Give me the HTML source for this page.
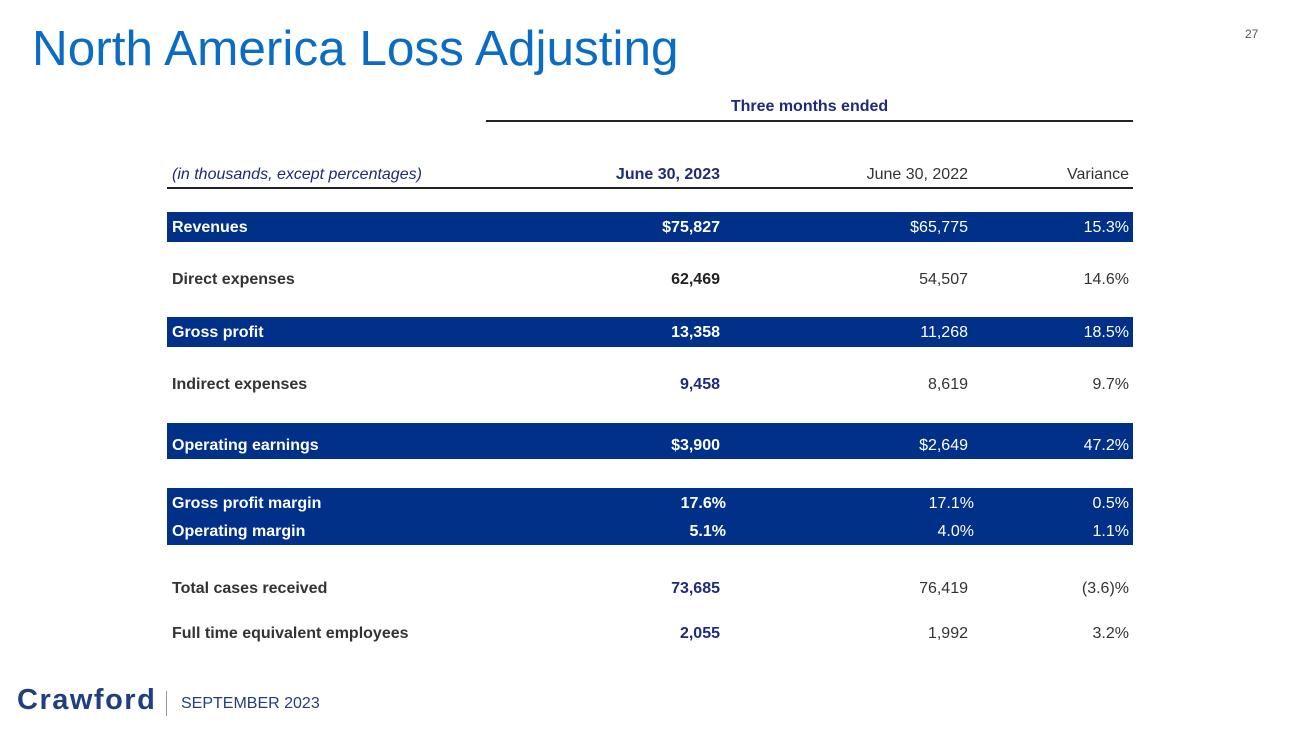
<!DOCTYPE html>
<html><head><meta charset="utf-8"><style>
body{margin:0;width:1300px;height:731px;background:#fff;position:relative;overflow:hidden;font-family:"Liberation Sans",sans-serif;}
.t{position:absolute;font-size:16px;line-height:20px;white-space:nowrap;}
.l{left:172px;font-weight:bold;color:#333;}
.c1{right:580px;text-align:right;font-weight:bold;color:#1f2a7a;}
.c2{right:332px;text-align:right;color:#333;}
.c3{right:171px;text-align:right;color:#333;}
.bar{position:absolute;left:167px;width:966px;background:#003087;}
.w{color:#fff !important;}
</style></head><body>
<div style="position:absolute;left:32px;top:20px;font-size:49.5px;color:#0b6cc4;">North America Loss Adjusting</div>
<div style="position:absolute;left:1245px;top:27px;font-size:12px;color:#555;">27</div>
<div class="t" style="left:486px;width:647px;text-align:center;top:97px;font-weight:bold;color:#1f2a7a;">Three months ended</div>
<div style="position:absolute;left:486px;width:647px;top:120px;height:2px;background:#222;"></div>
<div class="t" style="left:172px;top:165px;font-style:italic;color:#1f2a7a;">(in thousands, except percentages)</div>
<div class="t c1" style="top:165px;">June 30, 2023</div>
<div class="t c2" style="top:165px;">June 30, 2022</div>
<div class="t c3" style="top:165px;">Variance</div>
<div style="position:absolute;left:167px;width:966px;top:187px;height:2px;background:#222;"></div>

<div class="bar" style="top:212px;height:30px;"></div>
<div>
<div class="t l w" style="top:218px;">Revenues</div><div class="t c1 w" style="top:218px;">$75,827</div><div class="t c2 w" style="top:218px;">$65,775</div><div class="t c3 w" style="top:218px;">15.3%</div></div>

<div>
<div class="t l" style="top:270px;">Direct expenses</div><div class="t c1" style="top:270px;color:#222;">62,469</div><div class="t c2" style="top:270px;">54,507</div><div class="t c3" style="top:270px;">14.6%</div></div>

<div class="bar" style="top:317px;height:30px;"></div>
<div>
<div class="t l w" style="top:323px;">Gross profit</div><div class="t c1 w" style="top:323px;">13,358</div><div class="t c2 w" style="top:323px;">11,268</div><div class="t c3 w" style="top:323px;">18.5%</div></div>

<div>
<div class="t l" style="top:375px;">Indirect expenses</div><div class="t c1" style="top:375px;">9,458</div><div class="t c2" style="top:375px;">8,619</div><div class="t c3" style="top:375px;">9.7%</div></div>

<div class="bar" style="top:423px;height:36px;"></div>
<div>
<div class="t l w" style="top:436px;">Operating earnings</div><div class="t c1 w" style="top:436px;">$3,900</div><div class="t c2 w" style="top:436px;">$2,649</div><div class="t c3 w" style="top:436px;">47.2%</div></div>

<div class="bar" style="top:488px;height:57px;"></div>
<div>
<div class="t l w" style="top:494px;">Gross profit margin</div><div class="t c1 w" style="top:494px;right:574px;">17.6%</div><div class="t c2 w" style="top:494px;right:326px;">17.1%</div><div class="t c3 w" style="top:494px;">0.5%</div></div>
<div>
<div class="t l w" style="top:522px;">Operating margin</div><div class="t c1 w" style="top:522px;right:574px;">5.1%</div><div class="t c2 w" style="top:522px;right:326px;">4.0%</div><div class="t c3 w" style="top:522px;">1.1%</div></div>

<div>
<div class="t l" style="top:579px;">Total cases received</div><div class="t c1" style="top:579px;">73,685</div><div class="t c2" style="top:579px;">76,419</div><div class="t c3" style="top:579px;">(3.6)%</div></div>
<div>
<div class="t l" style="top:624px;">Full time equivalent employees</div><div class="t c1" style="top:624px;">2,055</div><div class="t c2" style="top:624px;">1,992</div><div class="t c3" style="top:624px;">3.2%</div></div>

<div style="position:absolute;left:17px;top:684px;font-size:29px;font-weight:bold;color:#1f3f7f;letter-spacing:1.5px;">Crawford</div>
<div style="position:absolute;left:166px;top:691px;width:1px;height:25px;background:#999;"></div>
<div style="position:absolute;left:181px;top:695px;font-size:16px;color:#1f3f7f;">SEPTEMBER 2023</div>
</body></html>
